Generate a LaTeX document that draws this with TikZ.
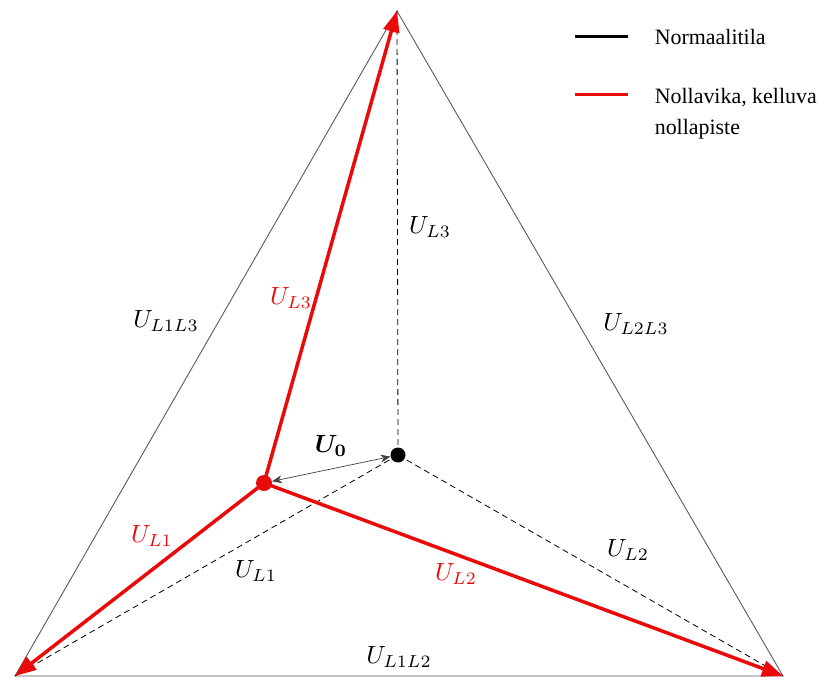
\documentclass[tikz,border=0pt]{standalone}
\usepackage{amsmath}
\usepackage{fontspec}
\setmainfont{Liberation Serif}
\usetikzlibrary{arrows.meta,positioning}
\definecolor{fault}{RGB}{235,10,10}
\definecolor{edge}{RGB}{90,90,90}

\begin{document}
\begin{tikzpicture}[x=1bp,y=-1bp,
    lbl/.style={scale=2.5},
    phase/.style={line width=3.5bp,fault,-{Triangle[length=21bp,width=16bp]}},
    norm/.style={black,line width=0.8bp,dash pattern=on 6bp off 4bp}]
  \useasboundingbox (0,0) rectangle (837,677);
  % vertices of the line-voltage triangle
  \coordinate (L3) at (397,11);
  \coordinate (L1) at (15,676);
  \coordinate (L2) at (783,676);
  \node[circle,fill=black,inner sep=0pt,minimum size=15bp] (n) at (398,455) {};
  \node[circle,fill=fault,inner sep=0pt,minimum size=16bp] (f) at (264,483) {};
  \draw[edge,line width=0.9bp] (L1) -- (L3) -- (L2) -- cycle;
  % normal state
  \foreach \v in {L1,L2,L3}
    \draw[norm] (n.center) -- (\v);
  % floating neutral
  \foreach \v in {L1,L2,L3}
    \draw[phase] (f.center) -- (\v);
  \draw[{Stealth[length=10bp,width=8bp]}-{Stealth[length=10bp,width=8bp]},line width=0.7bp,black!75] (f) -- (n);
  % labels
  \node[lbl] (u3) at (430,227) {$U_{L3}$};
  \node[lbl,text=fault] (u3f) at (291,298) {$U_{L3}$};
  \node[lbl] (u13) at (166,321) {$U_{L1L3}$};
  \node[lbl] (u23) at (636,324) {$U_{L2L3}$};
  \node[lbl] (u0) at (331,446) {$\boldsymbol{U_0}$};
  \node[lbl,text=fault] (u1f) at (152,536) {$U_{L1}$};
  \node[lbl] (u1) at (256,571) {$U_{L1}$};
  \node[lbl,text=fault] (u2f) at (456,574) {$U_{L2}$};
  \node[lbl] (u2) at (628,550) {$U_{L2}$};
  \node[lbl] (u12) at (399,657) {$U_{L1L2}$};
  % legend
  \coordinate (k1) at (575,37);
  \coordinate (k2) at (575,95);
  \draw[black,line width=3bp] (k1) -- ++(53,0) node[right=22bp,font=\fontsize{22}{26}\selectfont,black] (t1) {Normaalitila};
  \draw[fault,line width=3bp] (k2) -- ++(53,0) node[right=22bp,anchor=north west,yshift=12bp,align=left,font=\fontsize{22}{32}\selectfont,black] (t2) {Nollavika, kelluva\\nollapiste};
\end{tikzpicture}
\end{document}
